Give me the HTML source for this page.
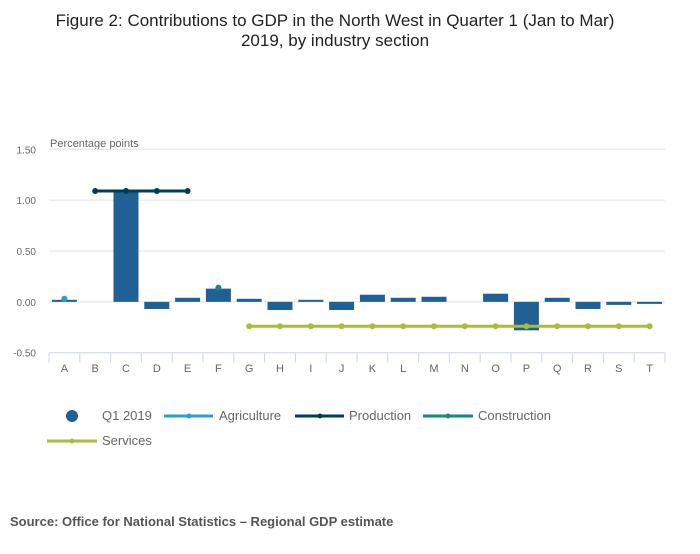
<!DOCTYPE html>
<html><head><meta charset="utf-8"><style>
body{margin:0;background:#fff;width:700px;height:549px;overflow:hidden}
svg text{font-family:"Liberation Sans",sans-serif}
</style></head><body>
<svg id="chart" width="700" height="549" xmlns="http://www.w3.org/2000/svg">
<text x="335" y="26" text-anchor="middle" font-size="17" fill="#222">Figure 2: Contributions to GDP in the North West in Quarter 1 (Jan to Mar)</text>
<text x="335" y="46" text-anchor="middle" font-size="17" fill="#222">2019, by industry section</text>
<text x="50" y="147" font-size="11" fill="#666">Percentage points</text>
<g id="grid"></g><g id="bars"></g><g id="lines"></g><g id="xaxis"></g>
<g font-size="13" fill="#666">
<circle cx="72" cy="416" r="6" fill="#206095"/>
<text x="102" y="420">Q1 2019</text>
<line x1="164" y1="416" x2="213" y2="416" stroke="#27a0cc" stroke-width="3"/><circle cx="189" cy="416" r="2.5" fill="#27a0cc"/>
<text x="219" y="420">Agriculture</text>
<line x1="295" y1="416" x2="344" y2="416" stroke="#003c57" stroke-width="3"/><circle cx="320" cy="416" r="2.5" fill="#003c57"/>
<text x="349" y="420">Production</text>
<line x1="423" y1="416" x2="473" y2="416" stroke="#118c7b" stroke-width="3"/><circle cx="448" cy="416" r="2.5" fill="#118c7b"/>
<text x="478" y="420">Construction</text>
<line x1="47" y1="441" x2="97" y2="441" stroke="#a8bd3a" stroke-width="3"/><circle cx="72" cy="441" r="2.5" fill="#a8bd3a"/>
<text x="102" y="445">Services</text>
</g>
<text x="10" y="526" font-size="13" font-weight="bold" fill="#555">Source: Office for National Statistics – Regional GDP estimate</text>
</svg>
<script>
const categories=["A","B","C","D","E","F","G","H","I","J","K","L","M","N","O","P","Q","R","S","T"];
const q1Values=[0.02,0,1.08,-0.07,0.04,0.13,0.03,-0.08,0.02,-0.08,0.07,0.04,0.05,0,0.08,-0.28,0.04,-0.07,-0.03,-0.02];
const agricultureCats=["A"];const agricultureValues=[0.03];
const productionCats=["B","C","D","E"];const productionValues=[1.09,1.09,1.09,1.09];
const constructionCats=["F"];const constructionValues=[0.14];
const servicesCats=["G","H","I","J","K","L","M","N","O","P","Q","R","S","T"];
const servicesValues=[-0.24,-0.24,-0.24,-0.24,-0.24,-0.24,-0.24,-0.24,-0.24,-0.24,-0.24,-0.24,-0.24,-0.24];
const yTicks=[1.5,1.0,0.5,0,-0.5];
const yTickLabels=["1.50","1.00","0.50","0.00","-0.50"];
const NS="http://www.w3.org/2000/svg";
const x0=49,x1=665,yMin=-0.5,yMax=1.5,plotTop=149.3,plotBot=352.7;
const step=(x1-x0)/categories.length;
const xC=c=>x0+step*(categories.indexOf(c)+0.5);
const y=v=>plotBot-(v-yMin)/(yMax-yMin)*(plotBot-plotTop);
function mk(tag,attrs,parent){const e=document.createElementNS(NS,tag);for(const k in attrs)e.setAttribute(k,attrs[k]);document.getElementById(parent).appendChild(e);return e;}
yTicks.forEach((t,i)=>{
 if(t>yMin){const g=mk('line',{x1:x0,x2:x1,y1:y(t),y2:y(t),stroke:'#e0e0e0','stroke-width':1},'grid');
 
 }
 const l=mk('text',{x:36,y:y(t)+4,'text-anchor':'end','font-size':10,fill:'#666'},'grid');l.textContent=yTickLabels[i];
 
 
});
q1Values.forEach((v,i)=>{
 const cx=xC(categories[i]);
 const r=mk('rect',{x:cx-12.5,width:25,y:Math.min(y(v),y(0)),height:Math.abs(y(v)-y(0)),fill:'#206095'},'bars');
 
 
});
function series(cats,vals,color,name){
 if(cats.length>1){const p=mk('polyline',{points:cats.map((c,i)=>xC(c)+','+y(vals[i])).join(' '),fill:'none',stroke:color,'stroke-width':3},'lines');
 
 }
 cats.forEach((c,i)=>{const d=mk('circle',{cx:xC(c),cy:y(vals[i]),r:3,fill:color},'lines');
 
 });
}
series(agricultureCats,agricultureValues,'#27a0cc','agriculture');
series(productionCats,productionValues,'#003c57','production');
series(constructionCats,constructionValues,'#118c7b','construction');
series(servicesCats,servicesValues,'#a8bd3a','services');
const ax=mk('line',{x1:x0,x2:x1,y1:plotBot,y2:plotBot,stroke:'#ccd6eb','stroke-width':1},'xaxis');


for(let i=0;i<=categories.length;i++){mk('line',{x1:x0+step*i,x2:x0+step*i,y1:plotBot,y2:plotBot+10,stroke:'#ccd6eb'},'xaxis');}
categories.forEach(c=>{const t=mk('text',{x:xC(c),y:372,'text-anchor':'middle','font-size':11,fill:'#666'},'xaxis');t.textContent=c;
 
 });
</script>
</body></html>
